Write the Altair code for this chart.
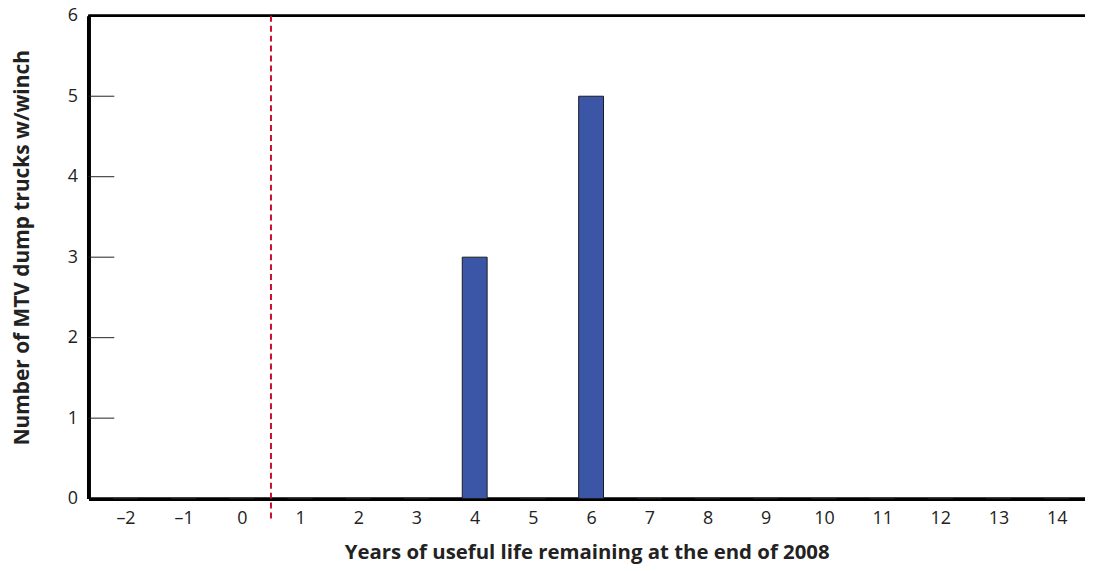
import altair as alt
import pandas as pd

years = list(range(-2, 15))
counts = [0, 0, 0, 0, 0, 0, 3, 0, 5, 0, 0, 0, 0, 0, 0, 0, 0]
y_ticks = [1, 2, 3, 4, 5]
cutoff = [0.5]

W, H = 1003, 486
FONT = "Open Sans"

df = pd.DataFrame({"year": years, "count": counts})
ticks_df = pd.DataFrame({"v": y_ticks})
cut_df = pd.DataFrame({"x": cutoff})

xscale = alt.Scale(domain=[-2.55, 14.4], nice=False, zero=False)
yscale = alt.Scale(domain=[0, 6], nice=False)

bars = alt.Chart(df).mark_bar(size=25, color="#3B56A6", stroke="#1a1a1a", strokeWidth=1).encode(
    x=alt.X("year:Q", scale=xscale,
            axis=alt.Axis(values=years, title="Years of useful life remaining at the end of 2008",
                          ticks=False, grid=False, domainColor="black", domainWidth=4,
                          labelFont=FONT, labelFontSize=18, labelColor="#222",
                          labelPadding=11,
                          labelExpr="datum.value < 0 ? '\u2013' + abs(datum.value) : '' + datum.value",
                          titleFont=FONT, titleFontSize=20.5, titleFontWeight="bold", titleColor="#222",
                          titlePadding=15)),
    y=alt.Y("count:Q", scale=yscale,
            axis=alt.Axis(values=[0, 1, 2, 3, 4, 5, 6], format="d", title="Number of MTV dump trucks w/winch",
                          ticks=False, grid=False, domainColor="black", domainWidth=4,
                          labelFont=FONT, labelFontSize=18, labelColor="#222",
                          labelPadding=11, titleY=233,
                          titleFont=FONT, titleFontSize=21, titleFontWeight="bold", titleColor="#222",
                          titlePadding=35)),
)

tick_marks = alt.Chart(ticks_df).mark_rule(color="#222", strokeWidth=1).encode(
    x=alt.value(0), x2=alt.value(26), y=alt.Y("v:Q", scale=yscale)
)

top_line = alt.Chart(ticks_df).mark_rule(color="black", strokeWidth=2).encode(
    x=alt.value(0), x2=alt.value(W), y=alt.value(0)
)

cut_line = alt.Chart(cut_df).mark_rule(color="#C8102E", strokeWidth=2, strokeDash=[6, 4]).encode(
    x=alt.X("x:Q", scale=xscale), y=alt.value(0), y2=alt.value(509)
)

chart = alt.layer(top_line, bars, tick_marks, cut_line).properties(
    width=W, height=H,
    autosize=alt.AutoSizeParams(type="none"),
    padding={"left": 81, "top": 6, "right": 0, "bottom": 64},
).configure_view(stroke=None)

chart.save("out.html", embed_options={"renderer": "svg", "actions": False})
